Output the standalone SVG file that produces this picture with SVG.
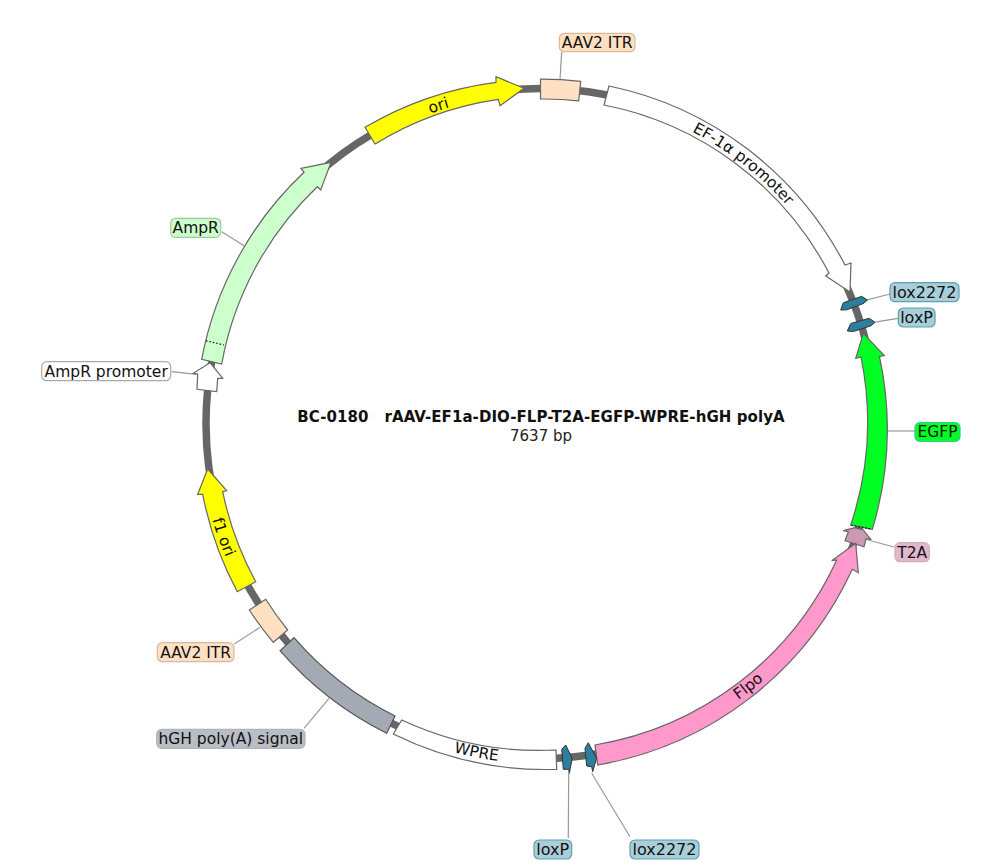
<svg xmlns="http://www.w3.org/2000/svg" width="1002" height="868" viewBox="0 0 1002 868">
<style>
text{font-family:"DejaVu Sans",Verdana,sans-serif;font-size:15.5px;fill:#111}
.f{stroke:#666;stroke-width:1.2;stroke-linejoin:miter}
.lox{fill:#2d7f9d;stroke:#333;stroke-width:1}
.lb{stroke-width:1.2}
.c{text-anchor:middle}
.leader{fill:none;stroke:#999;stroke-width:1.2}
.dot{fill:none;stroke:#111;stroke-width:1.2;stroke-dasharray:1.5 2}
.blue{fill:#a9ced9;stroke:#5d9fb5}
.peach{fill:#ffe0c2;stroke:#d9b99b}
.title{font-weight:bold;font-size:15px;letter-spacing:.08px;white-space:pre}
</style>
<defs>
<path id="tEF" d="M586.3 97.7A329 329 0 0 1 845.5 300.1"/>
<path id="tOri" d="M362.3 146.9A329 329 0 0 1 524.4 94.9"/>
<path id="tFlpo" d="M656.8 743A340 340 0 0 0 824.4 610.6"/>
<path id="tWPRE" d="M396.8 731.6A340 340 0 0 0 558.3 763"/>
<path id="tF1" d="M199.8 453.3A342 342 0 0 0 258.3 616.7"/>
</defs>
<rect width="1002" height="868" fill="#fff"/>
<g id="backbone"><circle cx="541" cy="423.5" r="335" fill="none" stroke="#666" stroke-width="7.5"/></g>
<g id="connectors">
<path class="leader" d="M561.7 51.7L560 79.3"/>
<path class="leader" d="M864 300.7L890 294"/>
<path class="leader" d="M873.3 322.3L898 318.3"/>
<path class="leader" d="M888 431H915"/>
<path class="leader" d="M868 540L894 547"/>
<path class="leader" d="M591.7 773.3L630 836.7"/>
<path class="leader" d="M568.7 773L568.3 838"/>
<path class="leader" d="M304 728.3L329 698.3"/>
<path class="leader" d="M234.3 644L260 627.3"/>
<path class="leader" d="M171.7 371.7L196.7 374.3"/>
<path class="leader" d="M221.7 231.7L244 245.7"/>
</g>
<g id="ori">
<path class="f" fill="#ff0" d="M365 127.3A344.5 344.5 0 0 1 496 82.3L496 76.7L524 88.3L500 105.7L498.3 99.3A324.5 324.5 0 0 0 375 144Z"/>
<text class="c"><textPath href="#tOri" startOffset="50%">ori</textPath></text>
</g>
<g id="aav2-itr-top">
<path class="f" fill="#ffe0c2" d="M540.5 79.2A344.5 344.5 0 0 1 580.7 81.4L578.7 100.8A324.5 324.5 0 0 0 540.5 99Z"/>
<rect class="lb peach" x="559.3" y="33.3" width="75.7" height="18.4" rx="5"/>
<text class="c" x="597.2" y="48">AAV2 ITR</text>
</g>
<g id="ef1a-promoter">
<path class="f" fill="#fff" d="M609 86A344.5 344.5 0 0 1 845 265L851 263L850 292L825.7 276L829 273A324.5 324.5 0 0 0 604 105Z"/>
<text class="c"><textPath href="#tEF" startOffset="50%">EF-1α promoter</textPath></text>
</g>
<g id="lox2272-a">
<path class="lox" d="M840.7 310L843.3 302.8L861.7 296.3L867.3 300L864 303.3L846.7 309.8Z"/>
<rect class="lb blue" x="890" y="282.7" width="69" height="19" rx="5"/>
<text class="c" x="924.5" y="297.5" style="font-size:16px">lox2272</text>
</g>
<g id="loxp-a">
<path class="lox" d="M847.3 331L850.7 323.5L869.3 318.3L875 322.3L871 325.8L853.3 331.5Z"/>
<rect class="lb blue" x="898.3" y="308" width="36.7" height="19" rx="5"/>
<text class="c" x="916.6" y="322.8" style="font-size:16px">loxP</text>
</g>
<g id="egfp">
<path class="f" fill="#0f2" d="M863.3 333.3L884.3 355.7L879.5 356.5A344.5 344.5 0 0 1 872.3 529.3L850.7 525A324.5 324.5 0 0 0 861 357L855.7 358.3Z"/>
<path class="dot" d="M851.5 525.2L871.5 529.1"/>
<rect class="lb" fill="#0f2" stroke="#3c9" x="915" y="422.5" width="45" height="19" rx="5"/>
<text class="c" x="937.5" y="437.3">EGFP</text>
</g>
<g id="t2a">
<path class="f" fill="#cc99b5" d="M843.3 530.7L855 527.7L863.3 530L870.7 539.3L866 539L864 546.7L845 540.7L848.3 531.7Z"/>
<rect class="lb" fill="#e0b8cc" stroke="#d3a9bf" x="895" y="542.7" width="34.3" height="19" rx="5"/>
<text class="c" x="912.2" y="557.5">T2A</text>
</g>
<g id="flpo">
<path class="f" fill="#ff99cc" d="M855.7 543.3L858.3 572.7L852.3 569.3A344.5 344.5 0 0 1 597.7 765L595 745A324.5 324.5 0 0 0 836.7 560L831.7 560.7Z"/>
<text class="c"><textPath href="#tFlpo" startOffset="50%">Flpo</textPath></text>
</g>
<g id="lox2272-b">
<path class="lox" d="M588.3 742.7L585 748.3L586.7 766L591.7 766.7L592.7 771.7L596.5 758.3Z"/>
<rect class="lb blue" x="630" y="840" width="69" height="19" rx="5"/>
<text class="c" x="664.5" y="854.8" style="font-size:16px">lox2272</text>
</g>
<g id="loxp-b">
<path class="lox" d="M565.7 745L561.7 749.3L563.3 769.3L568.7 769.3L569.3 773.3L572.2 758.3Z"/>
<rect class="lb blue" x="534" y="840" width="37.7" height="19" rx="5"/>
<text class="c" x="552.8" y="854.8" style="font-size:16px">loxP</text>
</g>
<g id="wpre">
<path class="f" fill="#fff" d="M401.7 720A324.5 324.5 0 0 0 556 750L556.7 769.3A344.5 344.5 0 0 1 393.3 734Z"/>
<text class="c"><textPath href="#tWPRE" startOffset="50%">WPRE</textPath></text>
</g>
<g id="hgh-polya">
<path fill="#a3aab3" stroke="#555" stroke-width="1.2" d="M294 637.7A324.5 324.5 0 0 0 395 716L386.7 733.3A344.5 344.5 0 0 1 280 650.7Z"/>
<rect class="lb" fill="#b9bdc4" stroke="#b0b4bb" x="156.7" y="729.3" width="148.3" height="19" rx="5"/>
<text class="c" x="230.8" y="744">hGH poly(A) signal</text>
</g>
<g id="aav2-itr-bottom">
<path class="f" fill="#ffe0c2" d="M249.3 610A344.5 344.5 0 0 0 273.3 642.3L287.7 630A324.5 324.5 0 0 1 265.7 599.3Z"/>
<rect class="lb peach" x="157.3" y="642.7" width="76.7" height="19" rx="5"/>
<text class="c" x="195.6" y="657.5">AAV2 ITR</text>
</g>
<g id="f1-ori">
<path class="f" fill="#ff0" d="M207.7 469L226.7 490.7L222.7 491.7A324.5 324.5 0 0 0 255.7 581.7L237.3 591.7A344.5 344.5 0 0 1 202.7 494.3L197.7 494.3Z"/>
<text class="c"><textPath href="#tF1" startOffset="50%">f1 ori</textPath></text>
</g>
<g id="ampr-promoter">
<path class="f" fill="#fff" d="M210 362.7L222.7 378.3L217.7 378.3L216.7 391.7L197 389.3L197.7 374L193.3 373.3Z"/>
<rect class="lb" fill="#fff" stroke="#aaa" x="41.7" y="361.7" width="129" height="19" rx="5"/>
<text class="c" x="106.2" y="376.5">AmpR promoter</text>
</g>
<g id="ampr">
<path class="f" fill="#cfc" d="M201.7 359.3A344.5 344.5 0 0 1 304 172.3L301 168.3L331 162.3L320.7 190L317.3 186.7A324.5 324.5 0 0 0 221.7 364Z"/>
<path class="dot" d="M206 340.7L224 345"/>
<rect class="lb" fill="#cfc" stroke="#9c9" x="170.7" y="218.3" width="50" height="19" rx="5"/>
<text class="c" x="195.7" y="233">AmpR</text>
</g>
<g id="title">
<text class="c title" x="541" y="422">BC-0180   rAAV-EF1a-DIO-FLP-T2A-EGFP-WPRE-hGH polyA</text>
<text class="c" x="541" y="441" style="font-size:15px;fill:#222">7637 bp</text>
</g>
</svg>
